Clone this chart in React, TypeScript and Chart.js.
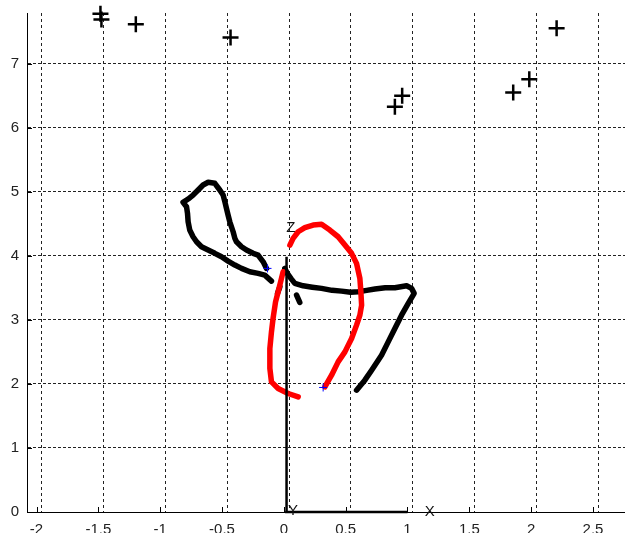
import React, { useEffect, useRef } from "react";
import { Chart, registerables } from "chart.js";

Chart.register(...registerables);

// ---- axis ranges / ticks ----
const X_MIN = -2.077;
const X_MAX = 2.759;
const Y_MIN = 0;
const Y_MAX = 7.79;
const GRID_SHIFT = 0.042; // back-wall grid is offset from the tick marks
const xTicks = [-2, -1.5, -1, -0.5, 0, 0.5, 1, 1.5, 2, 2.5];
const yTicks = [0, 1, 2, 3, 4, 5, 6, 7];

// ---- "+" markers ----
const crossX = [-1.483, -1.475, -1.197, -0.431, 0.898, 0.957, 1.855, 1.985, 2.206];
const crossY = [7.777, 7.69, 7.616, 7.406, 6.328, 6.5, 6.547, 6.756, 7.553];

// ---- black trajectory (null = gap) ----
const blackX = [
  -0.14, -0.167, -0.208, -0.248, -0.302, -0.342, -0.383, -0.396, -0.41, -0.437, -0.451, -0.464, -0.477,
  -0.491, -0.518, -0.558, -0.612, -0.653, -0.693, -0.734, -0.774, -0.815, -0.787, -0.779, -0.774, -0.761,
  -0.734, -0.706, -0.666, -0.612, -0.558, -0.504, -0.451, -0.396, -0.342, -0.275, -0.208, -0.154, -0.1,
  null,
  0.008, 0.03, 0.06, 0.089, 0.156, 0.23, 0.305, 0.39, 0.467, 0.54, 0.601, 0.67, 0.736, 0.82, 0.898, 0.993,
  1.033, 1.054, 1.006, 0.952, 0.898, 0.844, 0.79, 0.71, 0.655, 0.588,
  null,
  -0.032, -0.051,
  null,
  0.103, 0.129,
];
const blackY = [
  3.803, 3.906, 4.011, 4.038, 4.089, 4.141, 4.219, 4.272, 4.375, 4.531, 4.636, 4.741, 4.844,
  4.948, 5.027, 5.131, 5.147, 5.105, 5.027, 4.948, 4.886, 4.834, 4.766, 4.663, 4.531, 4.402,
  4.297, 4.219, 4.141, 4.089, 4.038, 3.984, 3.917, 3.855, 3.803, 3.75, 3.725, 3.698, 3.605,
  null,
  3.803, 3.72, 3.64, 3.569, 3.531, 3.51, 3.491, 3.46, 3.448, 3.43, 3.438, 3.46, 3.48, 3.5, 3.5, 3.531,
  3.491, 3.413, 3.256, 3.073, 2.866, 2.656, 2.448, 2.214, 2.058, 1.902,
  null,
  3.516, 3.413,
  null,
  3.386, 3.272,
];

// ---- red trajectory ----
const redX = [
  0.116, 0.035, -0.046, -0.1, -0.113, -0.113, -0.1, -0.087, -0.067, -0.046, -0.019, -0.006,
  null,
  0.049, 0.075, 0.116, 0.17, 0.237, 0.305, 0.372, 0.439, 0.494, 0.548, 0.588, 0.615, 0.623, 0.629,
  0.615, 0.588, 0.548, 0.494, 0.439, 0.386, 0.332,
];
const redY = [
  1.797, 1.85, 1.928, 2.031, 2.241, 2.553, 2.813, 3.022, 3.281, 3.438, 3.647, 3.75,
  null,
  4.167, 4.272, 4.375, 4.438, 4.48, 4.491, 4.402, 4.297, 4.167, 4.038, 3.881, 3.647, 3.438, 3.23,
  3.073, 2.917, 2.709, 2.5, 2.344, 2.136, 1.953,
];

// ---- blue start/end markers ----
const blueX = [-0.132, 0.318];
const blueY = [3.803, 1.944];

// ---- coordinate-frame lines (Z then X) ----
const frameX = [0.022, 0.022, null, 0.01, 1.0];
const frameY = [0, 3.984, null, 0, 0];

// ---- frame labels ----
const frameLabels = ["Z", "Y", "X"];
const frameLabelX = [0.057, 0.075, 1.181];
const frameLabelY = [4.43, 0.016, 0.0];

const FONT = '"Liberation Sans", Arial, sans-serif';

const zip = (xs: (number | null)[], ys: (number | null)[]) =>
  xs.map((x, i) => ({ x: x as number, y: ys[i] as number }));

const overlayPlugin = {
  id: "overlay",
  afterDatasetsDraw(chart: any) {
    const { ctx, chartArea } = chart;
    const x = chart.scales.x;
    const y = chart.scales.y;
    ctx.save();
    // inward tick marks (MATLAB style)
    ctx.strokeStyle = "#000";
    ctx.lineWidth = 1;
    ctx.setLineDash([]);
    ctx.beginPath();
    x.ticks.forEach((t: any) => {
      const px = Math.round(x.getPixelForValue(t.value)) + 0.5;
      ctx.moveTo(px, chartArea.bottom);
      ctx.lineTo(px, chartArea.bottom - 5);
    });
    y.ticks.forEach((t: any) => {
      const py = Math.round(y.getPixelForValue(t.value)) + 0.5;
      ctx.moveTo(chartArea.left, py);
      ctx.lineTo(chartArea.left + 5, py);
    });
    ctx.stroke();
    // frame labels
    ctx.fillStyle = "#111";
    ctx.font = `15px ${FONT}`;
    ctx.textAlign = "center";
    ctx.textBaseline = "middle";
    frameLabels.forEach((s, i) => {
      ctx.fillText(s, x.getPixelForValue(frameLabelX[i]), y.getPixelForValue(frameLabelY[i]));
    });
    ctx.restore();
  },
};

const zeroPad = (s: any) => {
  s.paddingTop = 0;
  s.paddingBottom = 0;
  s.paddingLeft = 0;
  s.paddingRight = 0;
};

export default function App() {
  const ref = useRef<HTMLCanvasElement | null>(null);

  useEffect(() => {
    if (!ref.current) return;
    const chart = new Chart(ref.current, {
      type: "scatter",
      data: {
        datasets: [
          {
            label: "frame",
            type: "line",
            data: zip(frameX, frameY),
            borderColor: "#000",
            borderWidth: 2.5,
            pointRadius: 0,
            spanGaps: false,
            clip: false,
            order: 1,
          } as any,
          {
            label: "blue",
            data: zip(blueX, blueY),
            pointStyle: "cross",
            pointRadius: 4,
            borderColor: "#0000ff",
            borderWidth: 1,
            order: 0,
          },
          {
            label: "red",
            type: "line",
            data: zip(redX, redY),
            borderColor: "#ff0000",
            borderWidth: 5.5,
            borderJoinStyle: "round",
            borderCapStyle: "round",
            pointRadius: 0,
            spanGaps: false,
            order: 2,
          } as any,
          {
            label: "black",
            type: "line",
            data: zip(blackX, blackY),
            borderColor: "#000",
            borderWidth: 5.5,
            borderJoinStyle: "round",
            borderCapStyle: "round",
            pointRadius: 0,
            spanGaps: false,
            order: 3,
          } as any,
          {
            label: "plus",
            data: zip(crossX, crossY),
            pointStyle: "cross",
            pointRadius: 8,
            borderColor: "#000",
            borderWidth: 2.5,
            clip: false,
            order: 4,
          } as any,
        ],
      },
      options: {
        responsive: false,
        animation: false,
        devicePixelRatio: 1,
        layout: { autoPadding: false, padding: { top: 13, left: 0, right: 0, bottom: 0 } },
        plugins: { legend: { display: false }, tooltip: { enabled: false } },
        scales: {
          x: {
            type: "linear",
            position: "bottom",
            min: X_MIN,
            max: X_MAX,
            afterBuildTicks: (s: any) => {
              s.ticks = xTicks.map((v) => ({ value: v }));
            },
            afterFit: (s: any) => {
              s.height = 21;
              zeroPad(s);
            },
            grid: { display: false, drawTicks: false },
            border: { display: true, color: "#000", width: 1 },
            ticks: {
              padding: 9,
              color: "#222",
              font: { family: FONT, size: 15 },
              maxRotation: 0,
              autoSkip: false,
              callback: (v: any) => String(Math.round(Number(v) * 10) / 10),
            },
          },
          x2: {
            type: "linear",
            position: "bottom",
            min: X_MIN - GRID_SHIFT,
            max: X_MAX - GRID_SHIFT,
            afterBuildTicks: (s: any) => {
              s.ticks = xTicks.map((v) => ({ value: v }));
            },
            afterFit: (s: any) => {
              s.height = 0;
              zeroPad(s);
            },
            grid: { color: "#222", lineWidth: 1, drawTicks: false },
            border: { display: false, dash: [3, 3] },
            ticks: { display: false },
          },
          y: {
            type: "linear",
            min: Y_MIN,
            max: Y_MAX,
            afterBuildTicks: (s: any) => {
              s.ticks = yTicks.map((v) => ({ value: v }));
            },
            afterFit: (s: any) => {
              s.width = 27;
              zeroPad(s);
            },
            grid: { color: "#222", lineWidth: 1, drawTicks: false },
            border: { display: true, color: "#000", width: 1, dash: [3, 2] },
            ticks: {
              padding: 8,
              color: "#222",
              font: { family: FONT, size: 15 },
              callback: (v: any) => String(v),
            },
          },
        },
      } as any,
      plugins: [overlayPlugin],
    });
    return () => chart.destroy();
  }, []);

  return (
    <div style={{ position: "absolute", left: 0, top: 0, width: 625, height: 533, background: "#fff" }}>
      <canvas ref={ref} width={625} height={533} style={{ display: "block" }} />
    </div>
  );
}
